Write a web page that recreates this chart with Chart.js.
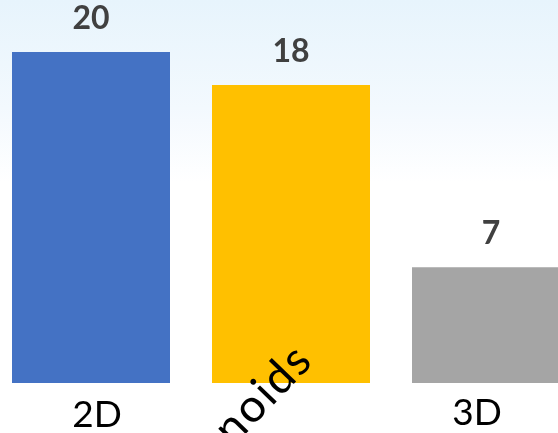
<!DOCTYPE html>
<html>
<head>
<meta charset="utf-8">
<script src="https://cdn.jsdelivr.net/npm/chart.js@4/dist/chart.umd.min.js"></script>
<style>
  html, body { margin: 0; padding: 0; width: 558px; height: 433px; overflow: hidden; }
  body { background: linear-gradient(to bottom, #e7f4fc 0%, #f3f9fe 25%, #ffffff 42%, #ffffff 100%); position: relative; }
  #wrap { position: absolute; left: -9px; top: 0; width: 600px; height: 433px; }
</style>
</head>
<body>
<div id="wrap"><canvas id="chart"></canvas></div>
<script>
// Chart data
const categories = ['2D', 'Humanoids', '3D'];
const values = [20, 18, 7];
const barColors = ['#4472C4', '#FFC000', '#A5A5A5'];

// Draws the value above each bar and the category names under the bars
const barText = {
  id: 'barText',
  afterDatasetsDraw(chart, args, opts) {
    const ctx = chart.ctx;
    const meta = chart.getDatasetMeta(0);
    const xs = chart.scales.x;
    const ys = chart.scales.y;
    ctx.save();
    ctx.font = 'bold 32px Lato, "Open Sans", sans-serif';
    ctx.fillStyle = '#404040';
    ctx.textAlign = 'center';
    ctx.textBaseline = 'alphabetic';
    meta.data.forEach((bar, i) => {
      ctx.fillText(String(values[i]), bar.x, bar.y - 23);
    });
    ctx.fillStyle = '#000000';
    categories.forEach((name, i) => {
      const t = opts.ticks[i];
      const x = xs.getPixelForValue(i) + t.dx;
      const y = ys.getPixelForValue(0) + t.dy;
      ctx.save();
      ctx.font = t.size + 'px Lato, "Open Sans", sans-serif';
      ctx.letterSpacing = (t.spacing || 0) + 'px';
      ctx.translate(x, y);
      ctx.rotate(t.angle * Math.PI / 180);
      ctx.textAlign = t.angle ? 'right' : 'center';
      ctx.fillText(name, 0, 0);
      ctx.restore();
    });
    ctx.restore();
  }
};

new Chart(document.getElementById('chart'), {
  type: 'bar',
  data: {
    labels: categories,
    datasets: [{
      data: values,
      backgroundColor: barColors,
      borderWidth: 0,
      barPercentage: 0.79,
      categoryPercentage: 1.0
    }]
  },
  options: {
    responsive: true,
    maintainAspectRatio: false,
    animation: false,
    layout: { padding: { top: 0, bottom: 50, left: 0, right: 0 } },
    scales: {
      x: { display: false },
      y: { display: false, min: 0, max: 23.14 }
    },
    plugins: {
      legend: { display: false },
      tooltip: { enabled: false },
      barText: {
        ticks: [
          { dx: 6, dy: 44, angle: 0, size: 37 },
          { dx: 24, dy: -21, angle: -46, size: 46, spacing: 2 },
          { dx: -14, dy: 42, angle: 0, size: 37 }
        ]
      }
    }
  },
  plugins: [barText]
});
</script>
</body>
</html>
